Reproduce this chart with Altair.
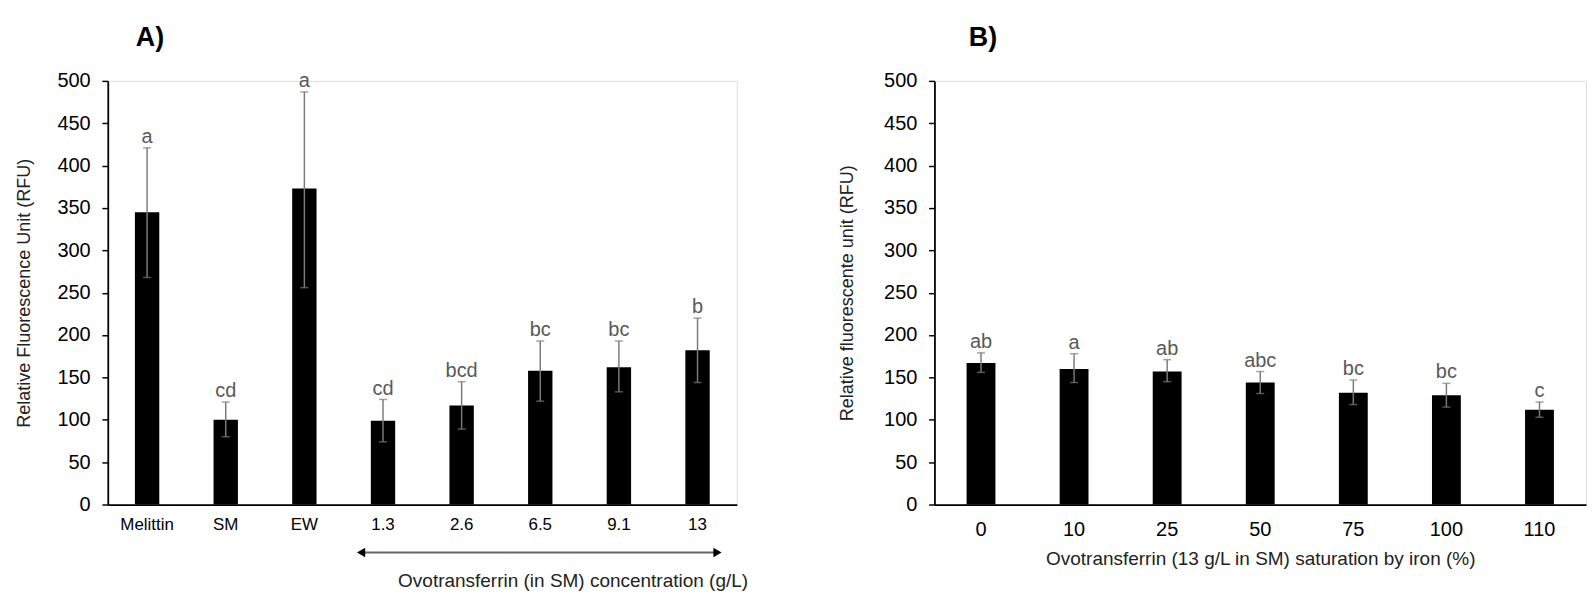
import altair as alt
import pandas as pd

# Panel A data
A_labels = ["Melittin", "SM", "EW", "1.3", "2.6", "6.5", "9.1", "13"]
A_mean = [345, 100, 373, 99, 117, 158, 162, 182]
A_lo = [268, 80, 256, 74, 89, 122, 133, 144]
A_hi = [421, 121, 487, 124, 145, 193, 193, 220]
A_letters = ["a", "cd", "a", "cd", "bcd", "bc", "bc", "b"]

# Panel B data
B_labels = ["0", "10", "25", "50", "75", "100", "110"]
B_mean = [167, 160, 157, 144, 132, 129, 112]
B_lo = [156, 144, 145, 131, 118, 115, 103]
B_hi = [179, 178, 171, 157, 147, 143, 121]
B_letters = ["ab", "a", "ab", "abc", "bc", "bc", "c"]

FONT = "Liberation Sans"
H = 433
Y_TICKS = list(range(0, 501, 50))

dfA = pd.DataFrame({"cat": A_labels, "mean": A_mean, "lo": A_lo, "hi": A_hi, "let": A_letters})
dfB = pd.DataFrame({"cat": B_labels, "mean": B_mean, "lo": B_lo, "hi": B_hi, "let": B_letters})
arrow_df = pd.DataFrame({"start": ["1.3"], "end": ["13"]})
titleA_df = pd.DataFrame({"cat": [A_labels[0]], "t": ["A)"]})
titleB_df = pd.DataFrame({"cat": [B_labels[0]], "t": ["B)"]})


def yaxis(title, tp):
    return alt.Axis(
        title=title, values=Y_TICKS, grid=False, domainColor="black", domainWidth=1.8,
        tickColor="black", tickWidth=1.5, tickSize=6, labelPadding=12, labelFontSize=20.4,
        labelColor="black", titleFontSize=18.4, titleFontWeight="normal", titleColor="#222",
        titlePadding=tp, labelFont=FONT, titleFont=FONT,
    )


def panel(df, labels, ytitle, tp, xaxis, band_pad, tdf, tdx):
    xsc = alt.Scale(domain=labels, paddingInner=band_pad, paddingOuter=band_pad / 2)
    x = alt.X("cat:N", sort=labels, scale=xsc, axis=xaxis)
    ysc = alt.Scale(domain=[0, 500], nice=False)
    bars = alt.Chart(df).mark_bar(color="black").encode(
        x=x, y=alt.Y("mean:Q", scale=ysc, axis=yaxis(ytitle, tp))
    )
    rule = alt.Chart(df).mark_rule(color="#7a7a7a", strokeWidth=1.5).encode(
        x=alt.X("cat:N", sort=labels), y="lo:Q", y2="hi:Q"
    )
    cap_lo = alt.Chart(df).mark_tick(color="#7a7a7a", size=8.2, thickness=1.5).encode(
        x=alt.X("cat:N", sort=labels), y="lo:Q"
    )
    cap_hi = alt.Chart(df).mark_tick(color="#7a7a7a", size=8.2, thickness=1.5).encode(
        x=alt.X("cat:N", sort=labels), y="hi:Q"
    )
    txt = alt.Chart(df).mark_text(
        color="#595959", fontSize=20.4, font=FONT, baseline="alphabetic", dy=-5
    ).encode(x=alt.X("cat:N", sort=labels), y="hi:Q", text="let:N")
    ttl = alt.Chart(tdf).mark_text(
        fontSize=27.5, fontWeight="bold", font=FONT, color="black",
        baseline="alphabetic", align="center", dx=tdx
    ).encode(x=alt.X("cat:N", sort=labels), y=alt.value(-36), text="t:N")
    return bars, rule, cap_lo, cap_hi, txt, ttl


WA = 643
WB = 666

xaxisA = alt.Axis(
    title="Ovotransferrin (in SM) concentration (g/L)", labelAngle=0, ticks=False,
    domainColor="black", domainWidth=1.8, labelFontSize=17.3, labelColor="black",
    labelPadding=12, labelFont=FONT, titleFont=FONT, titleFontSize=19.4,
    titleFontWeight="normal", titleColor="#222", titleX=654, titleY=78,
    titleAlign="right", titleBaseline="middle",
)
xaxisB = alt.Axis(
    title="Ovotransferrin (13 g/L in SM) saturation by iron (%)", labelAngle=0, ticks=False,
    domainColor="black", domainWidth=1.8, labelFontSize=20.4, labelColor="black",
    labelPadding=16, labelFont=FONT, titleFont=FONT, titleFontSize=19.4,
    titleFontWeight="normal", titleColor="#222", titlePadding=10,
)

pa = panel(dfA, A_labels, "Relative Fluorescence Unit (RFU)", 24.5, xaxisA, 0.69, titleA_df, 3)
pb = panel(dfB, B_labels, "Relative fluorescente unit (RFU)", 27.5, xaxisB, 0.69, titleB_df, 2)

arrow_line = alt.Chart(arrow_df).mark_rule(
    color="#666", strokeWidth=2, xOffset=-22.4, x2Offset=20.4
).encode(
    x=alt.X("start:N", sort=A_labels), x2="end:N", y=alt.value(H + 49)
)
head_l = alt.Chart(arrow_df).mark_point(
    shape="triangle-left", filled=True, color="black", size=94, xOffset=-22.4, opacity=1
).encode(x=alt.X("start:N", sort=A_labels), y=alt.value(H + 49))
head_r = alt.Chart(arrow_df).mark_point(
    shape="triangle-right", filled=True, color="black", size=94, xOffset=20.4, opacity=1
).encode(x=alt.X("end:N", sort=A_labels), y=alt.value(H + 49))

chartA = alt.layer(*pa, arrow_line, head_l, head_r).properties(width=WA, height=H)
chartB = alt.layer(*pb).properties(width=WB, height=H)

chart = alt.hconcat(chartA, chartB, spacing=90).properties(
    padding={"left": 5, "top": 9, "right": 0, "bottom": 0},
).configure_view(stroke=None).configure(font=FONT)

chart.save("out.html", embed_options={"renderer": "svg", "actions": False})
